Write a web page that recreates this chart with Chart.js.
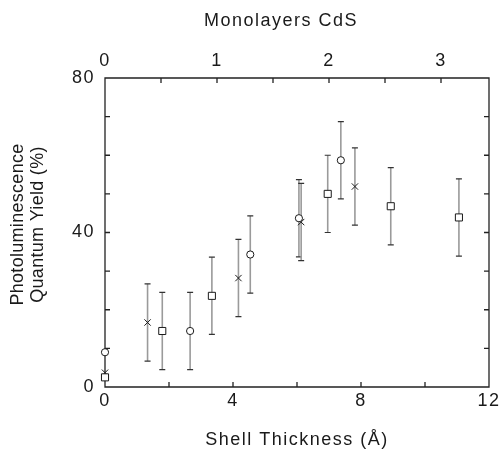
<!DOCTYPE html>
<html>
<head>
<meta charset="utf-8">
<script src="https://cdn.jsdelivr.net/npm/chart.js@4/dist/chart.umd.min.js"></script>
<style>
  html, body { margin: 0; padding: 0; background: #fff; }
  #wrap { width: 500px; height: 451px; }
</style>
</head>
<body>
<div id="wrap"><canvas id="chart" width="500" height="451"></canvas></div>
<script>
// Shell thickness (Å) and PL quantum yield (%) for three sample series
const circleThickness = [0, 2.66, 4.54, 6.06, 7.37];
const circleYield     = [9.0, 14.5, 34.3, 43.7, 58.7];
const circleError     = [0, 10, 10, 10, 10];

const squareThickness = [0, 1.79, 3.34, 6.96, 8.93, 11.06];
const squareYield     = [2.5, 14.5, 23.6, 50.0, 46.8, 43.9];
const squareError     = [0, 10, 10, 10, 10, 10];

const crossThickness  = [0, 1.33, 4.17, 6.13, 7.81];
const crossYield      = [3.7, 16.7, 28.2, 42.7, 51.9];
const crossError      = [0, 10, 10, 10, 10];

// Axis ticks
const thicknessTicks  = [0, 2, 4, 6, 8, 10, 12];
const thicknessLabels = [0, 4, 8, 12];
const yieldTicks      = [0, 10, 20, 30, 40, 50, 60, 70, 80];
const yieldLabels     = [0, 40, 80];
const monolayerTicks  = [0, 0.5, 1, 1.5, 2, 2.5, 3];
const monolayerLabels = [0, 1, 2, 3];

const ANGSTROM_PER_MONOLAYER = 3.5;
const THICKNESS_MAX = 12;

const FONT = "'Liberation Sans', Arial, Helvetica, sans-serif";
const FONT_SIZE = 18;
const INK = '#1a1a1a';

function toPoints(xs, ys) {
  return xs.map((x, i) => ({ x: x, y: ys[i] }));
}

// Slightly wider letter spacing for all axis text
const textSpacing = {
  id: 'textSpacing',
  beforeDraw(chart) {
    chart.ctx.letterSpacing = '1.5px';
  }
};

// Vertical error bars with caps, then the frame with inward ticks
const errorBars = {
  id: 'errorBars',
  beforeDatasetsDraw(chart) {
    const { ctx, chartArea: a, scales: { x, y, x2 } } = chart;
    ctx.save();
    ctx.setLineDash([]);
    ctx.globalAlpha = 1;
    chart.data.datasets.forEach(ds => {
      if (!ds.errors) return;
      ds.data.forEach((p, i) => {
        const e = ds.errors[i];
        if (!e) return;
        const px = x.getPixelForValue(p.x);
        const top = y.getPixelForValue(p.y + e);
        const bot = y.getPixelForValue(p.y - e);
        ctx.strokeStyle = '#9a9a9a';
        ctx.lineWidth = 1.6;
        ctx.beginPath();
        ctx.moveTo(px, top);
        ctx.lineTo(px, bot);
        ctx.stroke();
        ctx.strokeStyle = '#333';
        ctx.lineWidth = 1.2;
        ctx.beginPath();
        ctx.moveTo(px - 3, top); ctx.lineTo(px + 3, top);
        ctx.moveTo(px - 3, bot); ctx.lineTo(px + 3, bot);
        ctx.stroke();
      });
    });

    const len = 5;
    const L = a.left, R = a.right, T = a.top, B = a.bottom;
    ctx.strokeStyle = '#222';
    ctx.lineWidth = 1.3;
    ctx.beginPath();
    ctx.moveTo(L, T); ctx.lineTo(R, T); ctx.lineTo(R, B); ctx.lineTo(L, B); ctx.closePath();
    x.ticks.forEach(t => {
      const px = x.getPixelForValue(t.value);
      ctx.moveTo(px, B); ctx.lineTo(px, B - len);
    });
    x2.ticks.forEach(t => {
      const px = x2.getPixelForValue(t.value);
      ctx.moveTo(px, T); ctx.lineTo(px, T + len);
    });
    y.ticks.forEach(t => {
      const py = y.getPixelForValue(t.value);
      ctx.moveTo(L, py); ctx.lineTo(L + len, py);
      ctx.moveTo(R, py); ctx.lineTo(R - len, py);
    });
    ctx.stroke();
    ctx.restore();
  }
};

// Titles for the top axis and the left axis
const axisTitles = {
  id: 'axisTitles',
  afterDraw(chart) {
    const { ctx, chartArea: a } = chart;
    ctx.save();
    ctx.fillStyle = INK;
    ctx.font = FONT_SIZE + 'px ' + FONT;
    ctx.textAlign = 'center';
    ctx.textBaseline = 'middle';
    ctx.letterSpacing = '1.5px';
    ctx.fillText('Monolayers CdS', (a.left + a.right) / 2 - 16, 21);

    ctx.letterSpacing = '0.3px';
    const cy = (a.top + a.bottom) / 2 - 8;
    const lines = ['Photoluminescence', 'Quantum Yield (%)'];
    ctx.translate(18, cy);
    ctx.rotate(-Math.PI / 2);
    lines.forEach((t, i) => ctx.fillText(t, 0, i * 20));
    ctx.restore();
  }
};

const markerBase = {
  showLine: false,
  clip: false,
  borderColor: INK,
  backgroundColor: '#fff',
  borderWidth: 1,
  pointBorderColor: INK,
  pointBackgroundColor: '#fff'
};

const tickFont = { family: FONT, size: FONT_SIZE, lineHeight: 1.2 };

new Chart(document.getElementById('chart'), {
  type: 'scatter',
  data: {
    datasets: [
      Object.assign({}, markerBase, {
        label: 'circle',
        data: toPoints(circleThickness, circleYield),
        errors: circleError,
        pointStyle: 'circle',
        pointRadius: 3.6
      }),
      Object.assign({}, markerBase, {
        label: 'square',
        data: toPoints(squareThickness, squareYield),
        errors: squareError,
        pointStyle: 'rect',
        pointRadius: 5
      }),
      Object.assign({}, markerBase, {
        label: 'cross',
        data: toPoints(crossThickness, crossYield),
        errors: crossError,
        pointStyle: 'crossRot',
        pointRadius: 4.5
      })
    ]
  },
  options: {
    responsive: false,
    animation: false,
    events: [],
    layout: { padding: { left: 0, right: 11, top: 0, bottom: 0 } },
    plugins: {
      legend: { display: false },
      tooltip: { enabled: false }
    },
    scales: {
      x: {
        type: 'linear',
        position: 'bottom',
        min: 0,
        max: THICKNESS_MAX,
        afterBuildTicks: s => { s.ticks = thicknessTicks.map(v => ({ value: v })); },
        afterFit: s => { s.height = 64; s.paddingLeft = 0; s.paddingRight = 0; },
        grid: { display: false, drawTicks: false },
        border: { display: false },
        ticks: {
          autoSkip: false,
          maxRotation: 0,
          padding: 3.5,
          color: INK,
          font: tickFont,
          callback: v => thicknessLabels.includes(v) ? String(v) : ''
        },
        title: {
          display: true,
          text: 'Shell Thickness (Å)',
          color: INK,
          font: tickFont,
          padding: { top: 0, bottom: 0 }
        }
      },
      x2: {
        type: 'linear',
        position: 'top',
        min: 0,
        max: THICKNESS_MAX / ANGSTROM_PER_MONOLAYER,
        afterBuildTicks: s => { s.ticks = monolayerTicks.map(v => ({ value: v })); },
        afterFit: s => { s.height = 78; s.paddingLeft = 0; s.paddingRight = 0; },
        grid: { display: false, drawTicks: false },
        border: { display: false },
        ticks: {
          autoSkip: false,
          maxRotation: 0,
          padding: 6.5,
          color: INK,
          font: tickFont,
          callback: v => monolayerLabels.includes(v) ? String(v) : ''
        }
      },
      y: {
        type: 'linear',
        position: 'left',
        min: 0,
        max: 80,
        afterBuildTicks: s => { s.ticks = yieldTicks.map(v => ({ value: v })); },
        afterFit: s => { s.width = 105; s.paddingTop = 0; s.paddingBottom = 0; },
        grid: { display: false, drawTicks: false },
        border: { display: false },
        ticks: {
          autoSkip: false,
          padding: 10,
          color: INK,
          font: tickFont,
          callback: v => yieldLabels.includes(v) ? String(v) : ''
        }
      }
    }
  },
  plugins: [textSpacing, errorBars, axisTitles]
});
</script>
</body>
</html>
